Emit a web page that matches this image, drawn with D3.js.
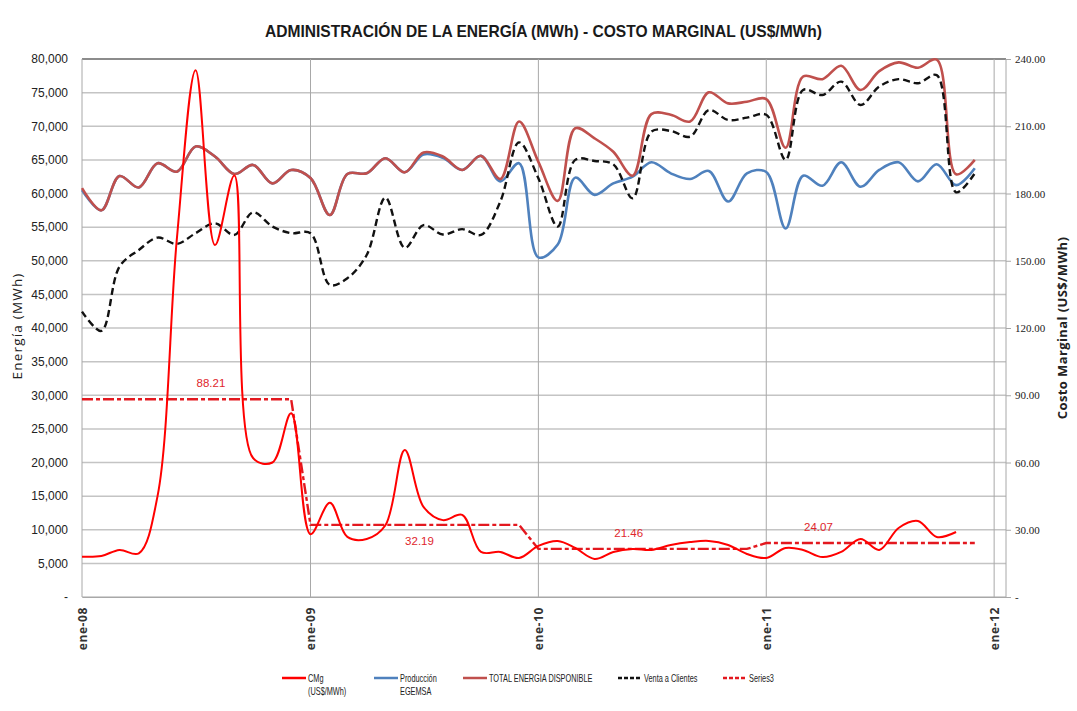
<!DOCTYPE html>
<html>
<head>
<meta charset="utf-8">
<script src="https://cdn.jsdelivr.net/npm/d3@7"></script>
<style>
  body { margin: 0; background: #fff; }
  svg { display: block; }
</style>
</head>
<body>
<div class="canvas"></div>
<script>
// meses (categorias)
const meses = [
  "2008-01","2008-02","2008-03","2008-04","2008-05","2008-06","2008-07","2008-08","2008-09","2008-10","2008-11","2008-12",
  "2009-01","2009-02","2009-03","2009-04","2009-05","2009-06","2009-07","2009-08","2009-09","2009-10","2009-11","2009-12",
  "2010-01","2010-02","2010-03","2010-04","2010-05","2010-06","2010-07","2010-08","2010-09","2010-10","2010-11","2010-12",
  "2011-01","2011-02","2011-03","2011-04","2011-05","2011-06","2011-07","2011-08","2011-09","2011-10","2011-11","2011-12"
]

// costo marginal US$/MWh (eje derecho), termina en nov-11
const cmg = [18, 18.3, 21, 19.5, 45, 160, 235, 157, 188, 62, 60, 82,
  28, 42, 26.8, 25.9, 32, 65.6, 40.2, 34.3, 36.6, 20.1, 20.1, 17.4,
  22.8, 25, 21.9, 17, 20.1, 21.4, 21, 23.2, 24.5, 25, 23.2, 19.2,
  17.4, 21.9, 21, 17.8, 20.1, 25.9, 21, 30.8, 33.9, 26.8, 29]

// produccion EGEMSA (MWh)
const produccion = [60500, 57500, 62600, 60900, 64500, 63250, 67000, 65500, 62900, 64250, 61500, 63500,
  62300, 56800, 62900, 63000, 65250, 63150, 65800, 65300, 63500, 65600, 61800, 64500,
  50500, 52400, 62360, 59800, 61500, 62500, 64640, 63000, 62150, 63350, 58800, 63000,
  63200, 54800, 62650, 61150, 64640, 61000, 63500, 64640, 61800, 64350, 61250, 63750]

// total energia disponible (MWh)
const total = [60800, 57500, 62600, 60900, 64500, 63250, 67000, 65500, 62900, 64250, 61500, 63500,
  62300, 56800, 62900, 63000, 65250, 63150, 66100, 65500, 63500, 65600, 62150, 70700,
  64700, 58900, 69700, 68200, 66200, 62650, 71800, 71700, 70700, 75050, 73400, 73650,
  74050, 66800, 77400, 77000, 79000, 75400, 78200, 79500, 78700, 79900, 62850, 65000]

// venta a clientes (MWh)
const venta = [42440, 39570, 49130, 51600, 53440, 52500, 54100, 55570, 53840, 57200, 55080, 54100,
  54100, 46400, 47400, 50860, 59400, 51900, 55300, 53900, 54700, 53840, 58800, 67600,
  62260, 55080, 65000, 64840, 64340, 59300, 69200, 69300, 68450, 72400, 70930, 71280,
  71700, 65000, 75400, 74650, 76630, 73160, 75900, 77000, 76400, 77600, 60180, 63000]

// Series3: promedio anual del CMg
const serie3 = [88.21, 88.21, 88.21, 88.21, 88.21, 88.21, 88.21, 88.21, 88.21, 88.21, 88.21, 88.21,
  32.19, 32.19, 32.19, 32.19, 32.19, 32.19, 32.19, 32.19, 32.19, 32.19, 32.19, 32.19,
  21.46, 21.46, 21.46, 21.46, 21.46, 21.46, 21.46, 21.46, 21.46, 21.46, 21.46, 21.46,
  24.07, 24.07, 24.07, 24.07, 24.07, 24.07, 24.07, 24.07, 24.07, 24.07, 24.07, 24.07]

// ticks
const ticksIzq = [0, 5000, 10000, 15000, 20000, 25000, 30000, 35000, 40000, 45000, 50000, 55000, 60000, 65000, 70000, 75000, 80000]
const ticksDer = [0, 30, 60, 90, 120, 150, 180, 210, 240]
const ticksX = ["2008-01", "2009-01", "2010-01", "2011-01", "2012-01"]

// etiquetas de Series3 (mes donde va cada una)
const etiquetasMes = ["2008-08", "2009-07", "2010-06", "2011-04"]

const parse = d3.timeParse("%Y-%m")
const fechas = meses.map(parse)

const width = 1077, height = 711
const plot = { left: 82, right: 1006, top: 59, bottom: 597 }
const narrow = '"Liberation Sans", Arial, sans-serif'

const svg = d3.select('.canvas')
  .append('svg')
  .attr('width', width)
  .attr('height', height)

const x = d3.scaleTime()
  .domain([parse("2008-01"), new Date(2012, 0, 20)])
  .range([plot.left, plot.right])

const yL = d3.scaleLinear().domain([0, 80000]).range([plot.bottom, plot.top])
const yR = d3.scaleLinear().domain([0, 240]).range([plot.bottom, plot.top])

// title
svg.append('text')
  .attr('x', 265)
  .attr('y', 37)
  .attr('textLength', 557)
  .attr('lengthAdjust', 'spacingAndGlyphs')
  .style('font-family', narrow)
  .style('font-weight', 'bold')
  .style('font-size', '17px')
  .attr('fill', '#1a1a1a')
  .text('ADMINISTRACIÓN DE LA ENERGÍA (MWh) - COSTO MARGINAL (US$/MWh)')

// gridlines
const grid = svg.append('g')
grid.selectAll('line.h')
  .data(ticksIzq)
  .enter().append('line')
  .attr('x1', plot.left).attr('x2', plot.right)
  .attr('y1', d => yL(d)).attr('y2', d => yL(d))
  .attr('stroke', d => d === 80000 ? '#8c8c8c' : '#c4c4c4')
  .attr('stroke-width', d => d === 80000 ? 2 : 1.5)

grid.selectAll('line.v')
  .data(ticksX.map(parse))
  .enter().append('line')
  .attr('x1', d => x(d)).attr('x2', d => x(d))
  .attr('y1', plot.top).attr('y2', plot.bottom)
  .attr('stroke', '#a8a8a8')
  .attr('stroke-width', 1)

// right axis line
svg.append('line')
  .attr('x1', plot.right).attr('x2', plot.right)
  .attr('y1', plot.top).attr('y2', plot.bottom)
  .attr('stroke', '#a8a8a8')

// axes
const yAxisL = d3.axisLeft(yL)
  .tickValues(ticksIzq)
  .tickSize(0)
  .tickPadding(14)
  .tickFormat(d => d === 0 ? '-' : d3.format(',')(d))

const yAxisR = d3.axisRight(yR)
  .tickValues(ticksDer)
  .tickSize(5)
  .tickPadding(4)
  .tickFormat(d => d === 0 ? '-' : d3.format('.2f')(d))

const xAxis = d3.axisBottom(x)
  .tickValues(ticksX.map(parse))
  .tickSize(0)
  .tickFormat(d => 'ene-' + d3.timeFormat('%y')(d))

const gL = svg.append('g')
  .attr('transform', `translate(${plot.left},0)`)
  .call(yAxisL)
gL.select('.domain').remove()
gL.selectAll('text')
  .style('font-family', narrow)
  .style('font-size', '12px')
  .attr('fill', '#222')

const gR = svg.append('g')
  .attr('transform', `translate(${plot.right},0)`)
  .call(yAxisR)
gR.select('.domain').remove()
gR.selectAll('line').attr('stroke', '#a8a8a8')
gR.selectAll('text')
  .style('font-family', '"Liberation Serif", serif')
  .style('font-size', '11px')
  .attr('fill', '#222')

const gX = svg.append('g')
  .attr('transform', `translate(0,${plot.bottom})`)
  .call(xAxis)
gX.select('.domain')
  .attr('stroke', '#a8a8a8')
gX.selectAll('text')
  .attr('transform', 'rotate(-90)')
  .attr('text-anchor', 'end')
  .attr('x', -10)
  .attr('y', 0)
  .attr('dy', '0.35em')
  .style('font-family', '"Open Sans", sans-serif')
  .style('font-weight', 'bold')
  .style('font-size', '12px')
  .style('letter-spacing', '0.6px')
  .attr('fill', '#333')

// axis titles
svg.append('text')
  .attr('transform', 'translate(22,326) rotate(-90)')
  .attr('text-anchor', 'middle')
  .style('font-family', '"Open Sans", sans-serif')
  .style('font-size', '13.5px')
  .style('letter-spacing', '1.2px')
  .attr('fill', '#222')
  .text('Energía (MWh)')

svg.append('text')
  .attr('transform', 'translate(1067,328) rotate(-90)')
  .attr('text-anchor', 'middle')
  .style('font-family', '"Open Sans", sans-serif')
  .style('font-weight', 'bold')
  .style('font-size', '13px')
  .style('letter-spacing', '0.4px')
  .attr('fill', '#222')
  .text('Costo Marginal (US$/MWh)')

// lines
const curve = d3.curveCatmullRom.alpha(0.5)

const lineL = d3.line()
  .x((d, i) => x(fechas[i]))
  .y(d => yL(d))
  .curve(curve)

const lineR = d3.line()
  .x((d, i) => x(fechas[i]))
  .y(d => yR(d))
  .curve(curve)

const lineStep = d3.line()
  .x((d, i) => x(fechas[i]))
  .y(d => yR(d))

const series = [
  { data: produccion, line: lineL, color: '#4f81bd', w: 2.6, dash: null },
  { data: total, line: lineL, color: '#c0504d', w: 2.6, dash: null },
  { data: venta, line: lineL, color: '#111', w: 2.4, dash: '7,4' },
  { data: serie3, line: lineStep, color: '#e3181f', w: 2.4, dash: '11,3,4,3' },
  { data: cmg, line: lineR, color: '#ff0000', w: 2, dash: null }
]

series.forEach(s => {
  svg.append('path')
    .attr('d', s.line(s.data))
    .attr('fill', 'none')
    .attr('stroke', s.color)
    .attr('stroke-width', s.w)
    .attr('stroke-dasharray', s.dash)
})

// Series3 labels
const etiquetas = etiquetasMes.map(m => ({ fecha: parse(m), valor: serie3[meses.indexOf(m)] }))
svg.selectAll('text.lbl')
  .data(etiquetas)
  .enter().append('text')
  .attr('class', 'lbl')
  .attr('x', d => x(d.fecha) - 4)
  .attr('y', (d, i) => yR(d.valor) + (i === 1 ? 20 : -12))
  .attr('text-anchor', 'middle')
  .style('font-family', narrow)
  .style('font-size', '11.5px')
  .attr('fill', '#e0262c')
  .text(d => d.valor.toFixed(2))

// legend
const legend = [
  { name: ['CMg', '(US$/MWh)'], color: '#ff0000', dash: null, x: 282 },
  { name: ['Producción', 'EGEMSA'], color: '#4f81bd', dash: null, x: 374 },
  { name: ['TOTAL ENERGIA DISPONIBLE'], color: '#c0504d', dash: null, x: 463 },
  { name: ['Venta a Clientes'], color: '#111', dash: '4,2', x: 618 },
  { name: ['Series3'], color: '#e3181f', dash: '4,2', x: 723 }
]

const lg = svg.append('g').attr('transform', 'translate(0,678)')
legend.forEach(l => {
  lg.append('line')
    .attr('x1', l.x).attr('x2', l.x + 24)
    .attr('y1', 0).attr('y2', 0)
    .attr('stroke', l.color)
    .attr('stroke-width', 2.5)
    .attr('stroke-dasharray', l.dash)
  l.name.forEach((t, k) => {
    lg.append('text')
      .attr('transform', `translate(${l.x + 26},${k * 13}) scale(0.7,1)`)
      .attr('dy', '0.35em')
      .style('font-family', narrow)
      .style('font-size', '10.5px')
      .attr('fill', '#222')
      .text(t)
  })
})
</script>
</body>
</html>
